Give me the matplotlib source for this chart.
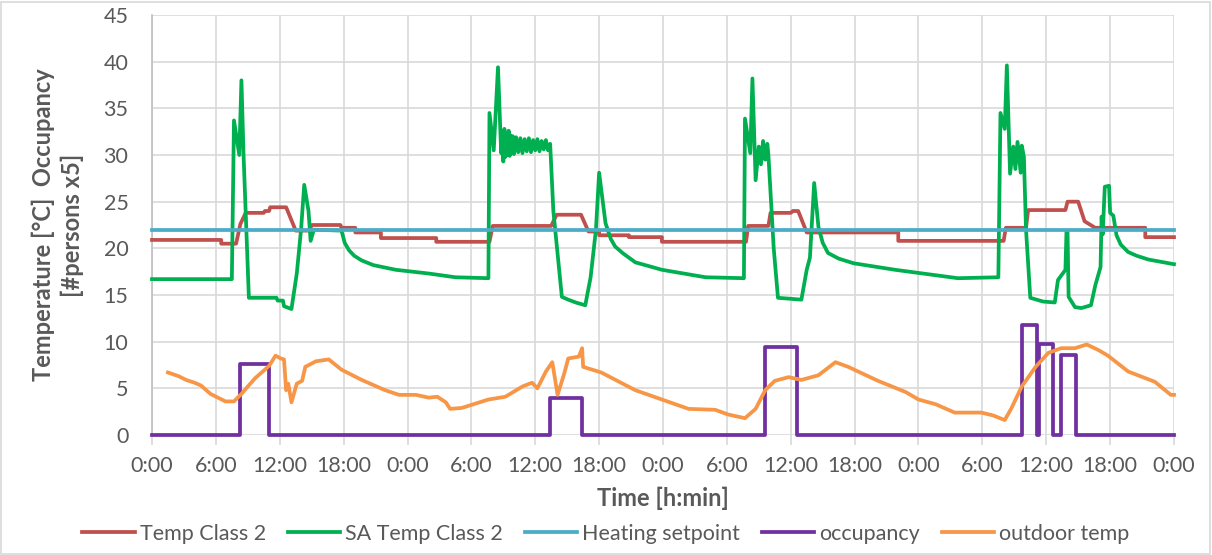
import matplotlib
matplotlib.use('Agg')
import matplotlib.pyplot as plt
from matplotlib.patches import Rectangle

# --- series (hours from start of the 4-day window) ---
temp_hours = [0, 6.5, 6.5, 7.9, 8.3, 8.8, 10.5, 10.6, 11.0, 11.1, 12.6, 13.5, 14.8, 15.0, 17.7, 17.8,
              19.1, 19.1, 21.5, 21.5, 26.7, 26.7, 31.7, 32.0, 37.5, 38.0, 40.3, 41.0, 42.0, 42.0,
              44.8, 44.8, 47.9, 47.9, 55.8, 56.0, 57.9, 58.1, 60.0, 60.2, 60.7, 61.5, 70.1, 70.1,
              80.0, 80.2, 82.1, 82.3, 85.8, 86.0, 87.0, 87.6, 88.6, 93.3, 93.3, 96]
temp_vals = [20.9, 20.9, 20.5, 20.5, 22.6, 23.8, 23.8, 24.0, 24.0, 24.4, 24.4, 21.9, 21.9, 22.5, 22.5, 22.2,
             22.2, 21.7, 21.7, 21.1, 21.1, 20.7, 20.7, 22.4, 22.4, 23.6, 23.6, 21.8, 21.8, 21.4,
             21.4, 21.2, 21.2, 20.7, 20.7, 22.4, 22.4, 23.8, 23.8, 24.0, 24.0, 21.7, 21.7, 20.8,
             20.8, 22.2, 22.2, 24.1, 24.1, 25.0, 25.0, 22.9, 22.2, 22.2, 21.2, 21.2]

sa_hours = [0, 7.5, 7.7, 8.2, 8.4, 8.6, 9.1, 11.7, 11.8, 12.3, 12.4, 13.1, 13.6, 14.0, 14.3, 14.7,
            14.9, 15.2, 17.8, 18.1, 18.5, 19.0, 19.7, 20.8, 22.9, 26.0, 28.5, 31.6, 31.7, 32.1, 32.5, 32.8,
            32.9, 33.0, 33.1, 33.2, 33.3, 33.4, 33.5, 33.6, 33.7, 33.8, 33.9, 34.0, 34.2, 34.4,
            34.6, 34.8, 35.0, 35.2, 35.4, 35.6, 35.8, 36.0, 36.2, 36.4, 36.6, 36.8, 37.0, 37.2, 37.4,
            37.7, 38.5, 39.1, 39.8, 40.7, 41.2, 41.7, 42.0, 42.6, 43.1, 43.5, 44.2, 45.4, 47.9, 52.0, 55.6,
            55.7, 56.2, 56.4, 56.7, 57.0, 57.2, 57.4, 57.6, 57.8, 57.9, 58.4, 58.8, 61.0, 61.5,
            61.8, 62.2, 62.6, 63.0, 63.5, 64.5, 65.9, 69.8, 75.7, 79.5, 79.7, 80.1, 80.3, 80.6, 80.9, 81.1,
            81.3, 81.6, 81.7, 81.9, 82.1, 82.5, 83.7, 84.8, 85.1, 85.8, 85.9, 86.0, 86.1, 86.7,
            87.3, 88.2, 88.6, 89.1, 89.2, 89.3, 89.5, 89.9, 90.0, 90.3, 90.6, 91.0, 91.7, 92.5, 93.6, 96]
sa_vals = [16.7, 16.7, 33.7, 30.0, 38.0, 30.0, 14.7, 14.7, 14.4, 14.4, 13.8, 13.5, 17.3, 22.0, 26.8, 24.0,
           20.8, 22.0, 21.9, 20.6, 19.8, 19.2, 18.7, 18.2, 17.7, 17.3, 16.9, 16.8, 34.5, 30.5, 39.4, 30.2,
           32.5, 29.3, 32.8, 29.8, 32.3, 30.0, 32.6, 29.9, 32.1, 30.2, 32.0, 30.1, 31.9, 30.3,
           31.8, 30.2, 31.7, 30.4, 31.8, 30.3, 31.6, 30.5, 31.7, 30.4, 31.5, 30.6, 31.6, 30.5, 31.2,
           24.0, 14.8, 14.5, 14.2, 13.9, 16.9, 22.0, 28.1, 22.7, 21.0, 20.2, 19.5, 18.5, 17.7, 16.9, 16.8,
           33.9, 30.2, 38.2, 27.3, 30.9, 29.0, 31.5, 29.5, 31.2, 30.0, 20.0, 14.7, 14.5, 17.7,
           19.0, 27.0, 22.3, 20.6, 19.5, 18.9, 18.4, 17.7, 16.8, 16.9, 34.5, 32.8, 39.6, 28.0, 30.9, 28.5,
           31.4, 28.1, 31.0, 29.8, 22.0, 14.7, 14.3, 14.2, 16.6, 17.7, 21.8, 21.8, 14.8, 13.7,
           13.6, 13.9, 16.0, 18.0, 23.4, 21.5, 26.6, 26.7, 23.8, 23.5, 21.4, 20.4, 19.6, 19.2, 18.8, 18.3]

setpoint_hours = [0, 96]
setpoint_vals = [22, 22]

occ_hours = [0, 8.3, 8.3, 11.0, 11.0, 37.4, 37.4, 40.4, 40.4, 57.6, 57.6, 60.6, 60.6,
             81.7, 81.7, 83.1, 83.1, 83.3, 83.3, 84.6, 84.6, 85.4, 85.4, 86.8, 86.8, 96]
occ_vals = [0, 0, 7.6, 7.6, 0, 0, 4.0, 4.0, 0, 0, 9.4, 9.4, 0,
            0, 11.8, 11.8, 0, 0, 9.8, 9.8, 0, 0, 8.6, 8.6, 0, 0]

out_hours = [1.5, 2.5, 3.2, 4.0, 4.6, 5.5, 6.2, 6.9, 7.7, 8.4, 9.0, 9.7, 10.4, 11.0, 11.6, 12.1,
             12.4, 12.6, 12.8, 13.1, 13.6, 14.1, 14.4, 15.4, 16.6, 17.8, 19.7, 21.9, 23.2, 24.8,
             26.0, 26.8, 27.6, 28.0, 29.1, 31.6, 33.2, 34.8, 35.7, 36.2, 37.0, 37.6, 38.1, 38.7, 39.1, 40.1,
             40.4, 40.5, 42.2, 45.4, 47.9, 50.4, 52.9, 54.1, 55.7, 56.7, 57.6, 58.5, 59.8, 61.0,
             62.6, 64.2, 65.4, 68.2, 70.8, 72.0, 73.6, 75.4, 77.9, 79.0, 80.1, 80.7, 81.7, 83.0,
             84.2, 85.4, 86.7, 87.8, 88.9, 89.8, 91.7, 94.2, 95.7, 96]
out_vals = [6.7, 6.3, 5.9, 5.6, 5.3, 4.4, 4.0, 3.6, 3.6, 4.4, 5.2, 6.1, 6.8, 7.4, 8.5, 8.2,
            8.1, 4.8, 5.5, 3.5, 5.5, 5.8, 7.3, 7.9, 8.1, 7.0, 5.9, 4.8, 4.3, 4.3,
            4.0, 4.1, 3.5, 2.8, 2.9, 3.8, 4.1, 5.2, 5.6, 5.0, 6.8, 7.8, 4.3, 6.5, 8.2, 8.4,
            9.3, 7.3, 6.7, 4.8, 3.8, 2.8, 2.7, 2.2, 1.8, 2.8, 4.8, 5.8, 6.2, 5.9,
            6.4, 7.8, 7.3, 5.8, 4.6, 3.8, 3.3, 2.4, 2.4, 2.1, 1.6, 2.8, 5.2, 7.3,
            8.8, 9.3, 9.3, 9.7, 9.1, 8.5, 6.8, 5.7, 4.3, 4.3]

tick_hours = list(range(0, 97, 6))
tick_labels = ['0:00', '6:00', '12:00', '18:00'] * 4 + ['0:00']

plt.rcParams['font.family'] = ['Lato', 'DejaVu Sans']
text_grey = '#595959'
grid_grey = '#D9D9D9'

fig = plt.figure(figsize=(12.12, 5.55), dpi=100)
fig.subplots_adjust(left=152 / 1212, right=1174 / 1212, top=1 - 15 / 555, bottom=1 - 435 / 555)
ax = fig.add_subplot(1, 1, 1)

lw = 2.7
ax.plot(temp_hours, temp_vals, color='#C0504D', lw=lw, label='Temp Class 2', zorder=3, clip_on=False)
ax.plot(sa_hours, sa_vals, color='#00B050', lw=lw, label='SA Temp Class 2', zorder=4, clip_on=False)
ax.plot(setpoint_hours, setpoint_vals, color='#4BACC6', lw=lw, label='Heating setpoint', zorder=5, clip_on=False)
ax.plot(occ_hours, occ_vals, color='#7030A0', lw=lw, label='occupancy', zorder=6, clip_on=False)
ax.plot(out_hours, out_vals, color='#F79646', lw=lw, label='outdoor temp', zorder=7, clip_on=False)

ax.set_xlim(0, 96)
ax.set_ylim(0, 45)
ax.set_yticks(range(0, 46, 5))
ax.set_xticks(tick_hours)
ax.set_xticklabels(tick_labels)
ax.grid(True, color=grid_grey, lw=1.2, zorder=0)
ax.set_axisbelow(True)

for side in ['top', 'right', 'bottom']:
    ax.spines[side].set_visible(False)
ax.spines['left'].set_color('#BFBFBF')
ax.spines['left'].set_linewidth(1.2)

ax.tick_params(axis='y', length=0, pad=17, labelsize=15.5, labelcolor=text_grey)
ax.tick_params(axis='x', length=7, width=1.2, color=grid_grey, pad=8, labelsize=15.5, labelcolor=text_grey)

ax.set_xlabel('Time [h:min]', fontsize=17, fontweight='bold', color=text_grey, labelpad=8)
ax.set_ylabel('Temperature [°C]  Occupancy\n[#persons x5]', fontsize=17, fontweight='bold',
              color=text_grey, linespacing=1.3, va='center')
ax.yaxis.set_label_coords((58 - 152) / 1022, 0.5)

fig.legend(loc='center', bbox_to_anchor=(0.5, 1 - 534 / 555), ncol=5, frameon=False,
           fontsize=15.5, labelcolor=text_grey, handlelength=2.45, handletextpad=0.23,
           columnspacing=1.0)

fig.patches.append(Rectangle((0.001, 0.002), 0.997, 0.995, transform=fig.transFigure,
                             fill=False, edgecolor=grid_grey, lw=1.2))

fig.savefig('out.png', dpi=100)
